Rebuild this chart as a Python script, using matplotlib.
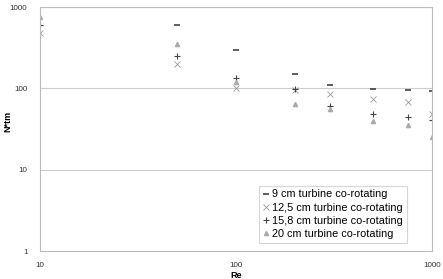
import matplotlib
matplotlib.use("Agg")
import matplotlib.pyplot as plt
from matplotlib.ticker import FixedLocator, FixedFormatter, NullLocator

plt.rcParams['font.family'] = ['Liberation Sans', 'DejaVu Sans']

re_vals = [10, 50, 100, 200, 300, 500, 750, 1000]
re_9 = [50, 100, 200, 300, 500, 750, 1000]
n9 = [600, 300, 150, 110, 97, 96, 93]
n125 = [482, 201, 100, 95, 84, 73, 67, 49]
n158 = [604, 249, 134, 99, 60, 49, 44.5, 41]
n20 = [743, 350, 119, 64, 55, 40, 35, 25]
labels = ["9 cm turbine co-rotating", "12,5 cm turbine co-rotating",
          "15,8 cm turbine co-rotating", "20 cm turbine co-rotating"]

fig = plt.figure(figsize=(4.43, 2.79), dpi=100)
ax = fig.add_axes([40/443, 1-251/279, 392/443, 244/279])
ax.set_xscale("log")
ax.set_yscale("log")
ax.set_xlim(10, 1000)
ax.set_ylim(1, 1000)

ax.plot(re_9, n9, linestyle="none", marker="_", ms=4.5, mew=1.1, color="#333333", label=labels[0])
ax.plot(re_vals, n125, linestyle="none", marker="x", ms=4.5, mew=0.6, color="#999999", label=labels[1])
ax.plot(re_vals, n158, linestyle="none", marker="+", ms=5, mew=0.8, color="#444444", label=labels[2])
ax.plot(re_vals, n20, linestyle="none", marker="^", ms=3, color="#aaaaaa", label=labels[3])

for v in [10, 100, 1000]:
    ax.axhline(v, color="#cccccc", lw=0.8, zorder=0)

ax.xaxis.set_major_locator(FixedLocator([10, 100, 1000]))
ax.xaxis.set_major_formatter(FixedFormatter(["10", "100", "1000"]))
ax.xaxis.set_minor_locator(NullLocator())
ax.yaxis.set_major_locator(FixedLocator([1, 10, 100, 1000]))
ax.yaxis.set_major_formatter(FixedFormatter(["1", "10", "100", "1000"]))
ax.yaxis.set_minor_locator(NullLocator())
ax.tick_params(axis="both", length=0, labelsize=5.8, colors="#333333")
ax.tick_params(axis="x", pad=8)
ax.tick_params(axis="y", pad=9)
for s in ax.spines.values():
    s.set_color("#bbbbbb")
    s.set_linewidth(0.8)

ax.set_xlabel("Re", fontsize=6.5, fontweight="bold", labelpad=1)
ax.set_ylabel("N*tm", fontsize=6.5, fontweight="bold")
ax.yaxis.set_label_coords(-28/392, 0.53)

leg = ax.legend(loc="lower right", bbox_to_anchor=(367/392, 8/244), fontsize=7.8,
                frameon=True, fancybox=False, handlelength=0.6, handletextpad=0.3,
                borderpad=0.35, labelspacing=0.3, borderaxespad=0, edgecolor="#cccccc")
leg.get_frame().set_linewidth(0.8)

fig.savefig("out.png", dpi=100)
